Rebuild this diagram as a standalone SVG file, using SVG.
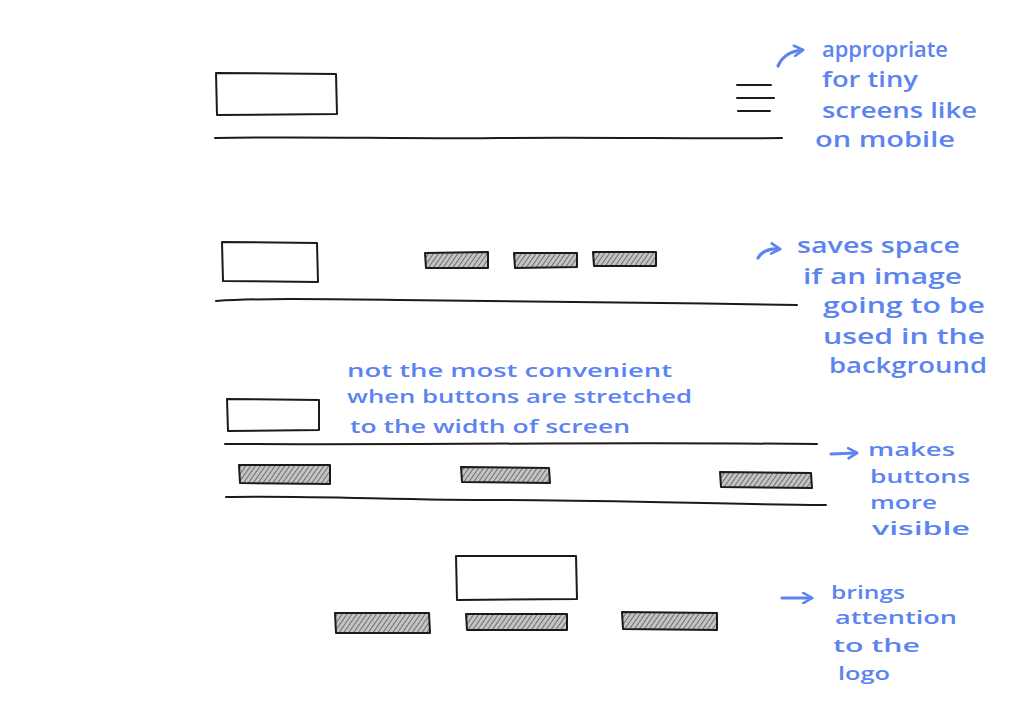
<svg xmlns="http://www.w3.org/2000/svg" width="1029" height="706" viewBox="0 0 1029 706">
<defs>
<pattern id="hatch" patternUnits="userSpaceOnUse" width="4" height="4" patternTransform="rotate(35)">
<rect width="4" height="4" fill="#c4c4c4"/>
<line x1="0" y1="0" x2="0" y2="4" stroke="#4a4a4a" stroke-width="1.4"/>
</pattern>
<marker id="ah" viewBox="0 0 10 10" refX="7" refY="5" markerWidth="4" markerHeight="4" orient="auto" markerUnits="strokeWidth">
<path d="M1,1 L8,5 L1,9" fill="none" stroke="#5b84f0" stroke-width="2" stroke-linecap="round" stroke-linejoin="round"/>
</marker>
<style>
.ink{fill:none;stroke:#1a1a1a;stroke-width:2;stroke-linecap:round;stroke-linejoin:round}
.box{fill:#ffffff;stroke:#1a1a1a;stroke-width:2;stroke-linejoin:round}
.btn{fill:url(#hatch);stroke:#1a1a1a;stroke-width:2;stroke-linejoin:round}
.note{font-family:"Open Sans","Liberation Sans",sans-serif;font-size:21px;font-weight:600;fill:#5b84f0}
.sm{font-size:18px}
.arr{fill:none;stroke:#5b84f0;stroke-width:3.2;stroke-linecap:round;marker-end:url(#ah)}
</style>
</defs>
<rect width="1029" height="706" fill="#ffffff"/>

<g id="layout1">
<path class="box" d="M216,73 L336,74 L337,114 L217,115 Z"/>
<path class="ink" d="M737,85 L771,85 M737,98 L774,98 M738,111 L770,111"/>
<path class="ink" d="M215,138 C300,136 400,139 500,138 S700,139 782,138"/>
</g>

<g id="layout2">
<path class="box" d="M222,242 L317,243 L318,282 L223,281 Z"/>
<path class="btn" d="M425,253 L488,252 L488,268 L426,268 Z"/>
<path class="btn" d="M514,253 L577,253 L577,267 L515,268 Z"/>
<path class="btn" d="M593,252 L656,252 L656,266 L594,266 Z"/>
<path class="ink" d="M216,301 C260,298 320,299 400,300 S650,302 797,305"/>
</g>

<g id="layout3">
<path class="box" d="M227,399 L319,400 L319,430 L228,431 Z"/>
<path class="ink" d="M225,444 C400,445 600,442 817,444"/>
<path class="btn" d="M239,465 L330,465 L330,484 L240,483 Z"/>
<path class="btn" d="M461,467 L549,468 L550,483 L462,482 Z"/>
<path class="btn" d="M720,472 L811,473 L812,488 L721,487 Z"/>
<path class="ink" d="M226,497 C300,495 400,500 500,500 S700,504 826,505"/>
</g>

<g id="layout4">
<path class="box" d="M456,556 L576,556 L577,599 L457,600 Z"/>
<path class="btn" d="M335,613 L429,613 L430,633 L336,633 Z"/>
<path class="btn" d="M466,614 L567,614 L567,630 L467,630 Z"/>
<path class="btn" d="M622,612 L717,613 L717,630 L623,629 Z"/>
</g>

<g id="connectors">
<path class="arr" d="M778,66 Q784,52 802,50"/>
<path class="arr" d="M758,258 Q764,248 779,249"/>
<path class="arr" d="M831,454 L856,453"/>
<path class="arr" d="M782,598 L811,598" stroke-width="4"/>
</g>

<g id="note1">
<text class="note" x="822" y="57" textLength="126" lengthAdjust="spacingAndGlyphs">appropriate</text>
<text class="note" x="822" y="87" textLength="96" lengthAdjust="spacingAndGlyphs">for tiny</text>
<text class="note" x="822" y="118" textLength="155" lengthAdjust="spacingAndGlyphs">screens like</text>
<text class="note" x="815" y="147" textLength="140" lengthAdjust="spacingAndGlyphs">on mobile</text>
</g>

<g id="note2">
<text class="note" x="797" y="253" textLength="163" lengthAdjust="spacingAndGlyphs">saves space</text>
<text class="note" x="803" y="284" textLength="159" lengthAdjust="spacingAndGlyphs">if an image</text>
<text class="note" x="823" y="313" textLength="162" lengthAdjust="spacingAndGlyphs">going to be</text>
<text class="note" x="823" y="344" textLength="162" lengthAdjust="spacingAndGlyphs">used in the</text>
<text class="note" x="829" y="373" textLength="158" lengthAdjust="spacingAndGlyphs">background</text>
</g>

<g id="note3">
<text class="note sm" x="347" y="377" textLength="325" lengthAdjust="spacingAndGlyphs">not the most convenient</text>
<text class="note sm" x="347" y="403" textLength="345" lengthAdjust="spacingAndGlyphs">when buttons are stretched</text>
<text class="note sm" x="350" y="433" textLength="280" lengthAdjust="spacingAndGlyphs">to the width of screen</text>
</g>

<g id="note4">
<text class="note sm" x="868" y="456" textLength="87" lengthAdjust="spacingAndGlyphs">makes</text>
<text class="note sm" x="870" y="483" textLength="100" lengthAdjust="spacingAndGlyphs">buttons</text>
<text class="note sm" x="870" y="509" textLength="67" lengthAdjust="spacingAndGlyphs">more</text>
<text class="note sm" x="872" y="535" textLength="98" lengthAdjust="spacingAndGlyphs">visible</text>
</g>

<g id="note5">
<text class="note sm" x="831" y="599" textLength="74" lengthAdjust="spacingAndGlyphs">brings</text>
<text class="note sm" x="835" y="624" textLength="122" lengthAdjust="spacingAndGlyphs">attention</text>
<text class="note sm" x="833" y="652" textLength="87" lengthAdjust="spacingAndGlyphs">to the</text>
<text class="note sm" x="838" y="680" textLength="52" lengthAdjust="spacingAndGlyphs">logo</text>
</g>
</svg>
